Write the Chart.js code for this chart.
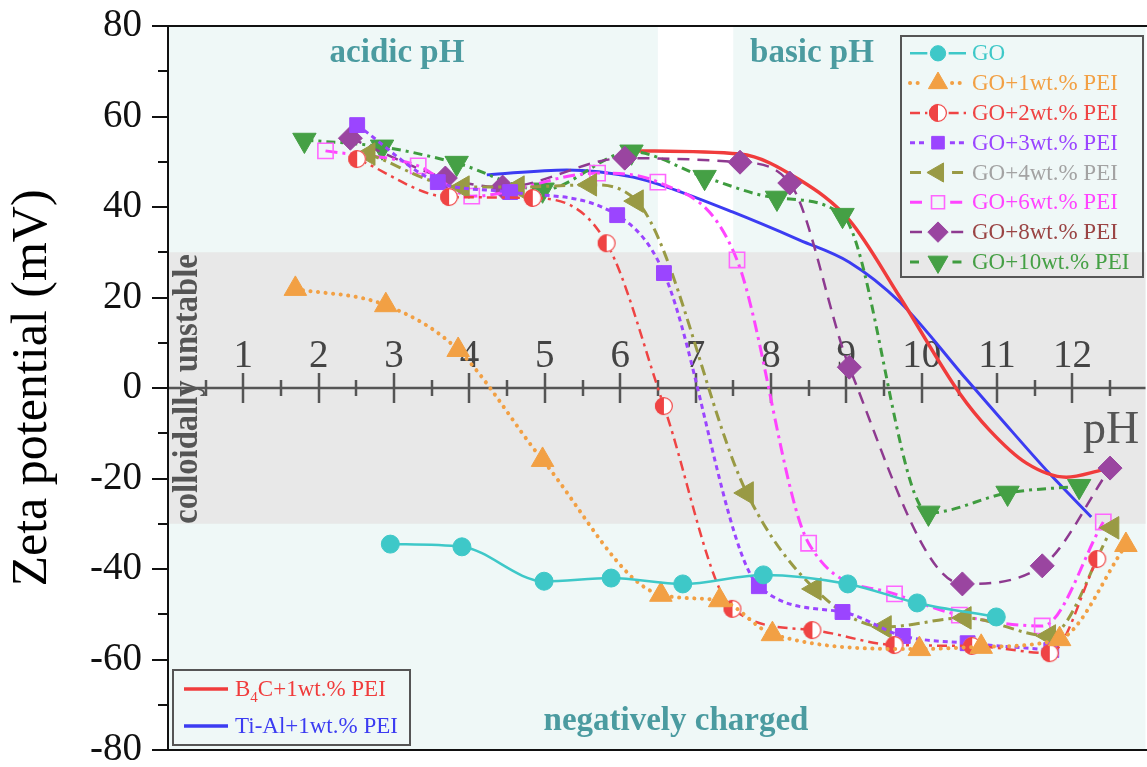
<!DOCTYPE html>
<html>
<head>
<meta charset="utf-8">
<title>Zeta potential vs pH</title>
<script src="https://cdn.jsdelivr.net/npm/chart.js@4.4.1/dist/chart.umd.min.js"></script>
<style>
    html, body { margin: 0; padding: 0; background: #fff; overflow: hidden; }
    #wrap { position: relative; width: 1147px; height: 767px; overflow: hidden; }
</style>
</head>
<body>
<div id="wrap"><canvas id="zetaChart" width="1160" height="767"></canvas></div>
<script>
// --- values: pH and zeta potential (mV) ---
const goPH     = [2.95, 3.90, 4.99, 5.88, 6.83, 7.90, 9.02, 9.94, 10.99];
const goZeta   = [-34.5, -35.1, -42.7, -42.0, -43.3, -41.3, -43.3, -47.5, -50.6];

const pei1PH   = [1.69, 2.89, 3.85, 4.97, 6.54, 7.32, 8.02, 9.97, 10.79, 11.83, 12.71];
const pei1Zeta = [21.9, 18.3, 8.4, -15.9, -45.7, -46.9, -54.4, -57.7, -57.2, -55.5, -34.7];

const pei2PH   = [2.51, 3.73, 4.84, 5.82, 6.58, 7.49, 8.55, 9.64, 10.67, 11.70, 12.33];
const pei2Zeta = [50.6, 42.2, 42.0, 32.0, -4.0, -48.8, -53.5, -56.8, -57.0, -58.6, -37.8];

const pei3PH   = [2.51, 3.58, 4.54, 5.96, 6.58, 7.84, 8.95, 9.75, 10.61, 11.72];
const pei3Zeta = [58.1, 45.5, 43.3, 38.2, 25.4, -43.8, -49.5, -54.8, -56.4, -57.9];

const pei4PH   = [2.66, 3.91, 4.64, 5.60, 6.22, 7.68, 8.58, 9.51, 10.57, 11.69, 12.53];
const pei4Zeta = [51.7, 44.4, 44.4, 44.9, 41.3, -23.2, -44.4, -52.8, -50.8, -54.8, -30.9];

const pei6PH   = [2.09, 3.32, 4.03, 5.70, 6.50, 7.55, 8.50, 9.64, 10.50, 11.60, 12.41];
const pei6Zeta = [52.4, 49.1, 42.4, 47.5, 45.5, 28.3, -34.3, -45.5, -50.2, -52.6, -29.6];

const pei8PH   = [2.42, 3.68, 4.44, 6.06, 7.59, 8.25, 9.04, 10.54, 11.60, 12.50];
const pei8Zeta = [55.2, 46.4, 44.4, 50.8, 49.9, 45.3, 4.6, -43.3, -39.3, -17.7];

const pei10PH   = [1.81, 2.84, 3.83, 4.97, 6.15, 7.12, 8.08, 8.95, 10.09, 11.14, 12.09];
const pei10Zeta = [54.8, 53.3, 49.7, 43.8, 52.2, 46.6, 42.0, 38.2, -27.6, -23.2, -21.7];

const b4cPH    = [6.20, 7.59, 8.38, 9.04, 9.71, 10.50, 10.90, 11.39, 11.92, 12.40];
const b4cZeta  = [52.4, 51.7, 46.0, 37.1, 20.1, -1.1, -9.3, -16.6, -19.7, -18.1];

const tialPH   = [4.23, 5.29, 6.17, 6.62, 7.49, 8.38, 9.04, 9.71, 10.60, 11.03, 11.69, 12.25];
const tialZeta = [47.1, 48.2, 46.6, 44.4, 38.9, 32.7, 27.8, 19.0, 1.8, -6.4, -18.8, -28.5];

const seriesNames = ['GO', 'GO+1wt.% PEI', 'GO+2wt.% PEI', 'GO+3wt.% PEI',
                     'GO+4wt.% PEI', 'GO+6wt.% PEI', 'GO+8wt.% PEI', 'GO+10wt.% PEI'];
const refNames = ['B4C+1wt.% PEI', 'Ti-Al+1wt.% PEI'];

const phTicks = [1, 2, 3, 4, 5, 6, 7, 8, 9, 10, 11, 12];
const zetaTicks = [-80, -60, -40, -20, 0, 20, 40, 60, 80];

const SERIF = "'Liberation Serif', 'Times New Roman', serif";

function toPoints(xs, ys) {
    return xs.map((x, i) => ({ x: x, y: ys[i] }));
}

// half filled circle marker (GO+2wt.% PEI)
function halfCircle(color, d) {
    const c = document.createElement('canvas');
    c.width = c.height = d + 2;
    const g = c.getContext('2d');
    const m = (d + 2) / 2, r = d / 2;
    g.fillStyle = '#fff';
    g.beginPath(); g.arc(m, m, r, 0, Math.PI * 2); g.fill();
    g.fillStyle = color;
    g.beginPath(); g.arc(m, m, r, Math.PI / 2, Math.PI * 1.5); g.closePath(); g.fill();
    g.strokeStyle = color; g.lineWidth = 1.2;
    g.beginPath(); g.arc(m, m, r - 0.6, 0, Math.PI * 2); g.stroke();
    return c;
}

const seriesStyle = [
    { line: '#3ec8c8', mark: '#3ec8c8', text: '#3ec8c8', dash: [], width: 2.5, point: 'circle', r: 9, rot: 0 },
    { line: '#f2a044', mark: '#f2a044', text: '#f2a044', dash: [0.1, 7.5], cap: 'round', width: 4, point: 'triangle', r: 13, rot: 0 },
    { line: '#ef4444', mark: '#ef4444', text: '#ef4444', dash: [10, 5, 3, 5], width: 2.5, point: halfCircle('#ef4444', 18), r: 9, rot: 0 },
    { line: '#9b45ff', mark: '#9b45ff', text: '#9b45ff', dash: [5, 4], width: 3, point: 'rect', r: 10.5, rot: 0 },
    { line: '#999a44', mark: '#999a44', text: '#a3a3a3', dash: [11, 5, 3, 5], width: 3, point: 'triangle', r: 13, rot: -90 },
    { line: '#ff44ff', mark: '#ff66ff', text: '#ff44ff', dash: [12, 5, 3, 5], width: 3, point: 'rect', r: 10.8, rot: 0, open: true },
    { line: '#8e3a90', mark: '#9a45a0', text: '#9a4444', dash: [12, 8], width: 2.5, point: 'rectRot', r: 12, rot: 0 },
    { line: '#3f9c3f', mark: '#45a045', text: '#45a045', dash: [9, 5, 3, 5], width: 3, point: 'triangle', r: 13.5, rot: 180 }
];

const seriesData = [
    toPoints(goPH, goZeta), toPoints(pei1PH, pei1Zeta), toPoints(pei2PH, pei2Zeta),
    toPoints(pei3PH, pei3Zeta), toPoints(pei4PH, pei4Zeta), toPoints(pei6PH, pei6Zeta),
    toPoints(pei8PH, pei8Zeta), toPoints(pei10PH, pei10Zeta)
];

const datasets = seriesData.map((pts, i) => {
    const s = seriesStyle[i];
    return {
        label: seriesNames[i],
        data: pts,
        borderColor: s.line,
        borderWidth: s.width,
        borderDash: s.dash,
        borderCapStyle: s.cap || 'butt',
        cubicInterpolationMode: 'monotone',
        pointStyle: s.point,
        pointRadius: s.r,
        pointRotation: s.rot,
        pointBackgroundColor: s.open ? 'rgba(0,0,0,0)' : s.mark,
        pointBorderColor: s.mark,
        pointBorderWidth: s.open ? 1.6 : 1,
        fill: false
    };
});

datasets.push({
    label: refNames[0], data: toPoints(b4cPH, b4cZeta),
    borderColor: '#f03c3c', borderWidth: 3.5, pointRadius: 0,
    cubicInterpolationMode: 'monotone', fill: false
});
datasets.push({
    label: refNames[1], data: toPoints(tialPH, tialZeta),
    borderColor: '#3c3cf2', borderWidth: 3, pointRadius: 0,
    cubicInterpolationMode: 'monotone', fill: false
});

// simple marker painter for the legend boxes
function drawMark(ctx, s, x, y, scale) {
    const r = s.r * scale;
    ctx.save();
    ctx.fillStyle = s.open ? 'rgba(0,0,0,0)' : s.mark;
    ctx.strokeStyle = s.mark;
    ctx.lineWidth = s.open ? 1.6 : 1;
    ctx.setLineDash([]);
    if (typeof s.point !== 'string') {
        ctx.drawImage(s.point, x - s.point.width / 2, y - s.point.height / 2);
        ctx.restore();
        return;
    }
    ctx.translate(x, y);
    ctx.rotate((s.rot || 0) * Math.PI / 180);
    ctx.beginPath();
    if (s.point === 'circle') {
        ctx.arc(0, 0, r, 0, Math.PI * 2);
    } else if (s.point === 'triangle') {
        ctx.moveTo(0, -r);
        ctx.lineTo(r * Math.sin(Math.PI * 2 / 3), -r * Math.cos(Math.PI * 2 / 3));
        ctx.lineTo(r * Math.sin(Math.PI * 4 / 3), -r * Math.cos(Math.PI * 4 / 3));
        ctx.closePath();
    } else if (s.point === 'rect') {
        const h = r * Math.SQRT1_2;
        ctx.rect(-h, -h, 2 * h, 2 * h);
    } else if (s.point === 'rectRot') {
        ctx.moveTo(0, -r); ctx.lineTo(r, 0); ctx.lineTo(0, r); ctx.lineTo(-r, 0); ctx.closePath();
    }
    ctx.fill();
    ctx.stroke();
    ctx.restore();
}

// coloured regions behind everything
const backdropPlugin = {
    id: 'backdrop',
    beforeDraw(chart) {
        const { ctx, chartArea: a, scales: { x, y } } = chart;
        ctx.save();
        ctx.fillStyle = '#eff8f7';
        ctx.fillRect(a.left, a.top, a.right - a.left, a.bottom - a.top);
        // colloidally unstable band
        const yTop = y.getPixelForValue(30), yBot = y.getPixelForValue(-30);
        ctx.fillStyle = '#e8e8e8';
        ctx.fillRect(a.left, yTop, a.right - a.left, yBot - yTop);
        // gap between acidic and basic regions
        const xl = x.getPixelForValue(6.5), xr = x.getPixelForValue(7.5);
        ctx.fillStyle = '#ffffff';
        ctx.fillRect(xl, a.top, xr - xl, yTop - a.top);
        ctx.restore();
    }
};

// centre axis line, ticks and region texts
const annotatePlugin = {
    id: 'annotate',
    beforeDatasetsDraw(chart) {
        const { ctx, chartArea: a, scales: { x, y } } = chart;
        ctx.save();

        // region labels
        ctx.fillStyle = '#4b9ba0';
        ctx.font = 'bold 33px ' + SERIF;
        ctx.textAlign = 'center';
        ctx.textBaseline = 'alphabetic';
        ctx.fillText('acidic pH', 397, 62);
        ctx.fillText('basic pH', 812, 62);
        ctx.fillText('negatively charged', 676, 730);

        // rotated band label, stretched to the band height
        const txt = 'colloidally unstable';
        ctx.font = 'bold 36px ' + SERIF;
        const w = ctx.measureText(txt).width;
        const band = y.getPixelForValue(-30) - y.getPixelForValue(30);
        ctx.fillStyle = '#555';
        ctx.translate(197, y.getPixelForValue(0) + 1);
        ctx.rotate(-Math.PI / 2);
        ctx.scale((band - 2) / w, 1);
        ctx.fillText(txt, 0, 0);
        ctx.setTransform(1, 0, 0, 1, 0, 0);

        // pH axis at zeta = 0
        const y0 = y.getPixelForValue(0);
        ctx.strokeStyle = '#555';
        ctx.lineWidth = 2.5;
        ctx.beginPath();
        ctx.moveTo(a.left, y0);
        ctx.lineTo(a.right, y0);
        for (let v = 0.5; v <= 12.5; v += 0.5) {
            const px = Math.round(x.getPixelForValue(v));
            const len = Number.isInteger(v) ? 15 : 8;
            ctx.moveTo(px, y0 - len);
            ctx.lineTo(px, y0 + len);
        }
        ctx.stroke();

        ctx.fillStyle = '#555';
        ctx.font = '46px ' + SERIF;
        ctx.textAlign = 'left';
        ctx.fillText('pH', 1083, 443);
        ctx.restore();
    },
    afterDraw(chart) {
        const { ctx, chartArea: a, scales: { y } } = chart;
        ctx.save();
        // y ticks (major every 20, minor every 10)
        ctx.strokeStyle = '#111';
        ctx.lineWidth = 2;
        ctx.beginPath();
        for (let v = -80; v <= 80; v += 10) {
            const py = Math.round(y.getPixelForValue(v));
            const len = (v % 20 === 0) ? 16 : 10;
            ctx.moveTo(a.left - len, py);
            ctx.lineTo(a.left, py);
        }
        // frame top / bottom / left
        ctx.moveTo(a.left - 16, a.top); ctx.lineTo(a.right + 2, a.top);
        ctx.moveTo(a.left - 16, a.bottom); ctx.lineTo(a.right + 2, a.bottom);
        ctx.moveTo(a.left, a.top); ctx.lineTo(a.left, a.bottom);
        ctx.stroke();

        // legend: GO series
        ctx.strokeStyle = '#555';
        ctx.lineWidth = 2;
        ctx.strokeRect(901, 36, 242, 241);
        ctx.font = '23px ' + SERIF;
        ctx.textBaseline = 'middle';
        ctx.textAlign = 'left';
        seriesNames.forEach((name, i) => {
            const s = seriesStyle[i];
            const yy = 53.3 + i * 29.8;
            const gap = s.r * 0.85 + 3;
            ctx.strokeStyle = s.line;
            ctx.lineWidth = s.width;
            ctx.lineCap = s.cap || 'butt';
            ctx.setLineDash(s.dash);
            ctx.beginPath();
            ctx.moveTo(910, yy); ctx.lineTo(938 - gap, yy);
            ctx.moveTo(938 + gap, yy); ctx.lineTo(966, yy);
            ctx.stroke();
            ctx.setLineDash([]);
            ctx.lineCap = 'butt';
            drawMark(ctx, s, 938, yy, 0.85);
            ctx.fillStyle = s.text;
            ctx.fillText(name, 972, yy + 1);
        });

        // legend: reference powders
        ctx.strokeStyle = '#555';
        ctx.lineWidth = 2;
        ctx.strokeRect(173, 670, 237, 75);
        const refColors = ['#f03c3c', '#3c3cf2'];
        const rows = [689, 726];
        rows.forEach((yy, i) => {
            ctx.strokeStyle = refColors[i];
            ctx.lineWidth = 3.5;
            ctx.beginPath(); ctx.moveTo(184, yy); ctx.lineTo(228, yy); ctx.stroke();
            ctx.fillStyle = refColors[i];
            ctx.font = '23px ' + SERIF;
            if (i === 0) {
                let px = 235;
                ctx.fillText('B', px, yy + 1);
                px += ctx.measureText('B').width;
                ctx.font = '15px ' + SERIF;
                ctx.fillText('4', px, yy + 9);
                px += ctx.measureText('4').width;
                ctx.font = '23px ' + SERIF;
                ctx.fillText('C+1wt.% PEI', px, yy + 1);
            } else {
                ctx.fillText(refNames[1], 235, yy + 1);
            }
        });
        ctx.restore();
    }
};

new Chart(document.getElementById('zetaChart'), {
    type: 'line',
    data: { datasets: datasets },
    options: {
        responsive: false,
        animation: false,
        events: [],
        layout: { padding: { left: 0, top: 26, right: 0, bottom: 17 } },
        scales: {
            x: {
                type: 'linear',
                position: { y: 0 },
                min: 0,
                max: 12.97,
                grid: { display: true, drawOnChartArea: false, drawTicks: false, color: 'rgba(0,0,0,0)' },
                border: { display: false },
                ticks: {
                    stepSize: 1,
                    includeBounds: false,
                    autoSkip: false,
                    maxRotation: 0,
                    padding: -55,
                    color: '#444',
                    font: { family: SERIF, size: 39 },
                    callback: v => phTicks.includes(v) ? String(v) : ''
                },
                afterFit: scale => {
                    scale.paddingLeft = 0;
                    scale.paddingRight = 0;
                }
            },
            y: {
                type: 'linear',
                position: 'left',
                min: -80,
                max: 80,
                grid: { display: true, drawOnChartArea: false, drawTicks: true, tickLength: 15, color: 'rgba(0,0,0,0)' },
                border: { display: true, color: '#111', width: 2 },
                ticks: {
                    stepSize: 10,
                    autoSkip: false,
                    padding: 11,
                    color: '#111',
                    font: { family: SERIF, size: 39 },
                    callback: v => zetaTicks.includes(v) ? String(v) : ''
                },
                title: {
                    display: true,
                    text: 'Zeta potential (mV)',
                    color: '#000',
                    font: { family: SERIF, size: 50 },
                    padding: { top: 3, bottom: 0 }
                },
                afterFit: scale => {
                    scale.width = 168;
                    scale.paddingTop = 0;
                    scale.paddingBottom = 0;
                }
            }
        },
        plugins: {
            legend: { display: false },
            tooltip: { enabled: false }
        }
    },
    plugins: [backdropPlugin, annotatePlugin]
});
</script>
</body>
</html>
